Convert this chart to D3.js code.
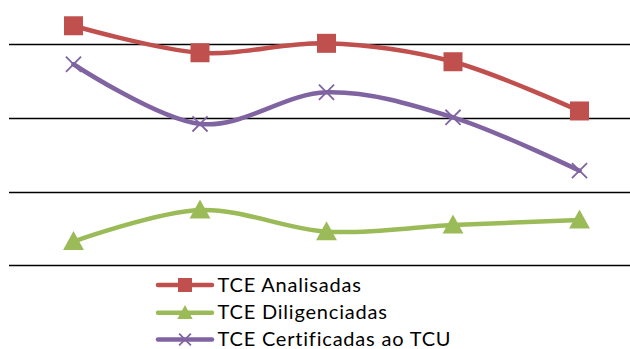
<!DOCTYPE html>
<html>
<head>
<meta charset="utf-8">
<script src="https://cdn.jsdelivr.net/npm/d3@7"></script>
<style>
  html, body { margin: 0; padding: 0; background: #fff; }
  svg { display: block; }
</style>
</head>
<body>
<svg id="chart" width="630" height="349"></svg>
<script>
// Periods along the x axis (labels are not displayed)
const categories = ["P1", "P2", "P3", "P4", "P5"];

// Series values
const analisadas   = [1625, 1442, 1506, 1381, 1047];
const diligenciadas = [161, 375, 228, 273, 307];
const certificadas = [1364, 959, 1174, 1004, 642];

// Horizontal gridline values
const gridTicks = [0, 500, 1000, 1500];

const series = [
  { name: "TCE Analisadas", values: analisadas, color: "#C0504D", marker: "square" },
  { name: "TCE Diligenciadas", values: diligenciadas, color: "#9BBB59", marker: "triangle" },
  { name: "TCE Certificadas ao TCU", values: certificadas, color: "#8064A2", marker: "x" }
];

const svg = d3.select("#chart");

const x = d3.scalePoint().domain(categories).range([73.5, 579.5]);
const y = d3.scaleLinear().domain([0, 1500]).range([265.3, 44.2]);

// Gridlines
svg.append("g")
  .selectAll("line")
  .data(gridTicks)
  .join("line")
  .attr("x1", 9)
  .attr("x2", 630)
  .attr("y1", d => Math.round(y(d)) + 0.5)
  .attr("y2", d => Math.round(y(d)) + 0.5)
  .attr("stroke", "#000")
  .attr("stroke-width", 1.5);

const line = d3.line()
  .x((d, i) => x(categories[i]))
  .y(d => y(d))
  .curve(d3.curveCardinal.tension(0));

function drawMarker(g, type, color, size) {
  if (type === "square") {
    g.append("rect")
      .attr("x", -size / 2).attr("y", -size / 2)
      .attr("width", size).attr("height", size)
      .attr("fill", color);
  } else if (type === "triangle") {
    const h = size * 1.0, w = size * 1.1;
    g.append("path")
      .attr("d", `M0,${-h * 0.55}L${w / 2},${h * 0.45}L${-w / 2},${h * 0.45}Z`)
      .attr("fill", color);
  } else {
    const s = size * 0.42;
    g.append("path")
      .attr("d", `M${-s},${-s}L${s},${s}M${-s},${s}L${s},${-s}`)
      .attr("stroke", color)
      .attr("stroke-width", 1.8)
      .attr("fill", "none");
  }
}

series.forEach(s => {
  svg.append("path")
    .datum(s.values)
    .attr("d", line)
    .attr("fill", "none")
    .attr("stroke", s.color)
    .attr("stroke-width", 4.5)
    .attr("stroke-linecap", "round");

  s.values.forEach((v, i) => {
    const g = svg.append("g")
      .attr("transform", `translate(${x(categories[i])},${y(v)})`);
    drawMarker(g, s.marker, s.color, s.marker === "x" ? 18 : 19);
  });
});

// Legend
const legend = svg.append("g");
const rowY = [285, 312.7, 339.5];
series.forEach((s, i) => {
  const g = legend.append("g").attr("transform", `translate(0,${rowY[i]})`);
  g.append("line")
    .attr("x1", 158).attr("x2", 212)
    .attr("y1", 0).attr("y2", 0)
    .attr("stroke", s.color)
    .attr("stroke-width", 4.5)
    .attr("stroke-linecap", "round");
  const m = g.append("g").attr("transform", "translate(185,0)");
  drawMarker(m, s.marker, s.color, 14);
  g.append("text")
    .attr("x", 217.5)
    .attr("y", 6.5)
    .attr("font-family", "Lato, 'Open Sans', sans-serif")
    .attr("font-size", 20)
    .attr("letter-spacing", 0.8)
    .attr("fill", "#000")
    .text(s.name);
});
</script>
</body>
</html>
